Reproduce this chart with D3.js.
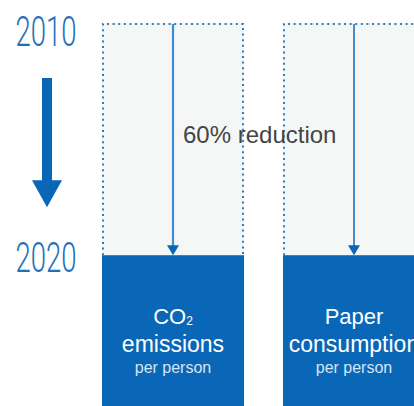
<!DOCTYPE html>
<html>
<head>
<meta charset="utf-8">
<script src="https://cdn.jsdelivr.net/npm/d3@7"></script>
<style>
  html, body { margin: 0; padding: 0; background: #ffffff; }
  svg { display: block; }
</style>
</head>
<body>
<svg id="chart" width="414" height="406"></svg>
<script>
// ---- data ----
const categories = ["CO2 emissions", "Paper consumption"];
const titleLines = [["CO", "emissions"], ["Paper", "consumption"]];
const subLabel = "per person";
const years = ["2010", "2020"];
const values2010 = [100, 100];
const values2020 = [40, 40];
const reductionLabel = "60% reduction";

// ---- layout ----
const svg = d3.select("#chart");

const x = d3.scaleBand().domain(categories).range([102, 425]).paddingInner(0.2155).paddingOuter(0);
const y = d3.scaleLinear().domain([0, 100]).range([410, 23]);

const blue = "#0a67b7";
const dotBlue = "#2a80c8";
const boxFill = "#f5f7f7";
const font = "'Liberation Sans', Arial, sans-serif";

// background boxes (2010 level)
categories.forEach((c, i) => {
  const x0 = x(c), bw = x.bandwidth();
  const top = y(values2010[i]), bot = y(values2020[i]);
  svg.append("rect").attr("x", x0).attr("y", top).attr("width", bw).attr("height", bot - top).attr("fill", boxFill);
  const dotted = d3.path();
  dotted.moveTo(x0 + 1, bot); dotted.lineTo(x0 + 1, top + 1); dotted.lineTo(x0 + bw - 1, top + 1); dotted.lineTo(x0 + bw - 1, bot);
  svg.append("path").attr("d", dotted.toString()).attr("fill", "none")
    .attr("stroke", dotBlue).attr("stroke-width", 2).attr("stroke-dasharray", "2,3.6");
});

// 2020 bars
svg.selectAll("rect.bar").data(categories).enter().append("rect").attr("class", "bar")
  .attr("x", d => x(d)).attr("width", x.bandwidth())
  .attr("y", (d, i) => y(values2020[i])).attr("height", (d, i) => y(0) - y(values2020[i]))
  .attr("fill", blue);

// reduction arrows
const arrowLineColors = ["#3b8ed2", "#1a72c2"];
categories.forEach((c, i) => {
  const cx = x(c) + x.bandwidth() / 2;
  const top = y(values2010[i]), tip = y(values2020[i]);
  svg.append("line").attr("x1", cx).attr("x2", cx).attr("y1", top + 1).attr("y2", tip - 8)
    .attr("stroke", arrowLineColors[i]).attr("stroke-width", i === 0 ? 2.2 : 1.6);
  svg.append("path").attr("d", `M${cx - 6},${tip - 10}L${cx + 6},${tip - 10}L${cx},${tip}Z`).attr("fill", blue);
});

// reduction label
svg.append("text").attr("x", x(categories[0]) + x.bandwidth() / 2 + 10).attr("y", y(values2010[0]) + 120)
  .attr("font-family", font).attr("font-size", 24)
  .attr("fill", "#444").text(reductionLabel);

// bar labels
categories.forEach((c, i) => {
  const cx = x(c) + x.bandwidth() / 2;
  const t0 = y(values2020[i]);
  const l1 = svg.append("text").attr("x", cx).attr("y", t0 + 69).attr("text-anchor", "middle")
    .attr("font-family", font).attr("font-size", 22).attr("fill", "#ffffff");
  l1.append("tspan").text(titleLines[i][0]);
  if (i === 0) l1.append("tspan").attr("font-size", 12).attr("dy", 1).text("2");
  svg.append("text").attr("x", cx).attr("y", t0 + 97).attr("text-anchor", "middle")
    .attr("font-family", font).attr("font-size", 23).attr("fill", "#ffffff")
    .text(titleLines[i][1]);
  svg.append("text").attr("x", cx).attr("y", t0 + 118).attr("text-anchor", "middle")
    .attr("font-family", font).attr("font-size", 16).attr("fill", "#d6e4f2")
    .text(subLabel);
});

// year labels
const yearY = [y(values2010[0]) + 23, y(values2020[0]) + 16.5];
years.forEach((yr, i) => {
  svg.append("text").attr("transform", `translate(46,${yearY[i]}) scale(0.64,1)`)
    .attr("text-anchor", "middle").attr("font-family", "Roboto, sans-serif").attr("font-weight", 300)
    .attr("font-size", 43).attr("fill", "#1f70bb").text(yr);
});

// big down arrow
const aTop = y(100) + 55, aTip = y(40) - 48, ax = 47;
const ap = d3.path();
ap.moveTo(ax - 5, aTop); ap.lineTo(ax + 5, aTop); ap.lineTo(ax + 5, aTip - 27); ap.lineTo(ax + 15, aTip - 27);
ap.lineTo(ax, aTip); ap.lineTo(ax - 15, aTip - 27); ap.lineTo(ax - 5, aTip - 27); ap.closePath();
svg.append("path").attr("d", ap.toString()).attr("fill", blue);
</script>
</body>
</html>
